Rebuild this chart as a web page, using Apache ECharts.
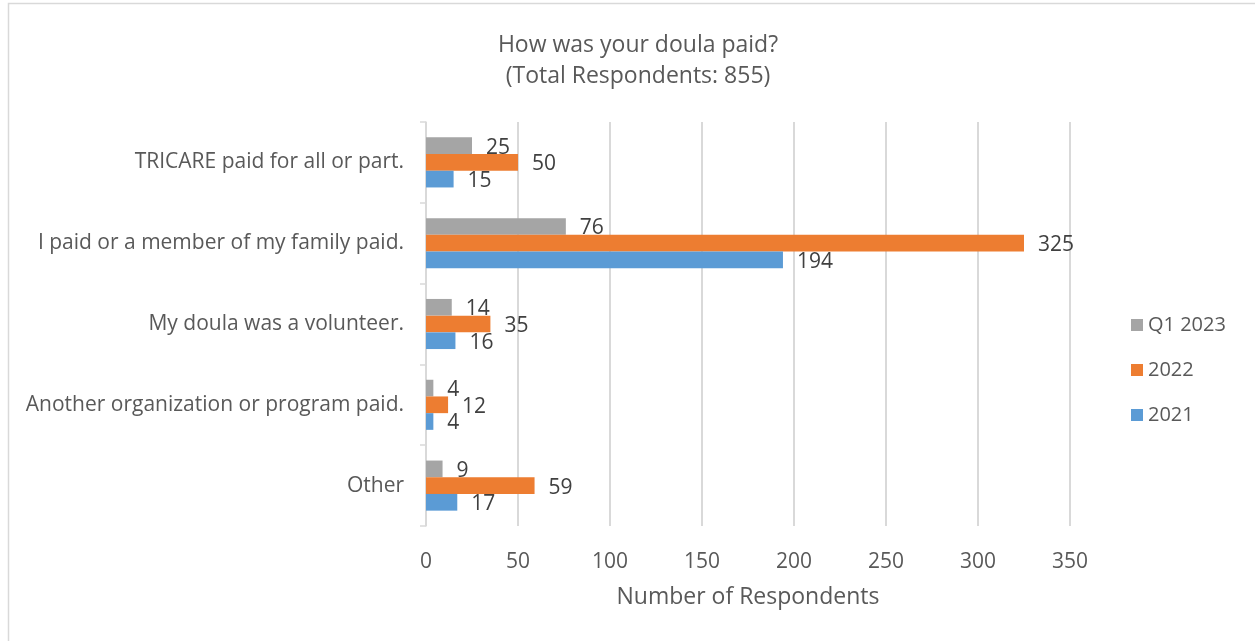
<!DOCTYPE html>
<html>
<head>
<meta charset="utf-8">
<script src="https://cdn.jsdelivr.net/npm/echarts@6/dist/echarts.min.js"></script>
<style>
  html, body { margin: 0; padding: 0; background: #fff; }
  #chart { width: 1255px; height: 641px; }
</style>
</head>
<body>
<div id="chart"></div>
<script>
// Survey answers, listed top to bottom
const categories = [
  'TRICARE paid for all or part.',
  'I paid or a member of my family paid.',
  'My doula was a volunteer.',
  'Another organization or program paid.',
  'Other'
];
const seriesNames = ['Q1 2023', '2022', '2021'];
const q1_2023 = [25, 76, 14, 4, 9];
const y2022 = [50, 325, 35, 12, 59];
const y2021 = [15, 194, 16, 4, 17];
const xTicks = [0, 50, 100, 150, 200, 250, 300, 350];

const colors = ['#a5a5a5', '#ed7d31', '#5b9bd5'];
const FONT = '"Open Sans", sans-serif';
const TEXT = '#595959';

function barSeries(name, data, color) {
  return {
    name: name,
    type: 'bar',
    data: data,
    barGap: '0%',
    barCategoryGap: '38%',
    itemStyle: { color: color },
    label: {
      show: true,
      position: 'right',
      distance: 14,
      offset: [0, 2],
      color: '#404040',
      fontSize: 21,
      fontFamily: FONT
    }
  };
}

const chart = echarts.init(document.getElementById('chart'), null, { renderer: 'canvas' });
chart.setOption({
  animation: false,
  backgroundColor: '#fff',
  color: colors,
  title: {
    text: 'How was your doula paid?\n(Total Respondents: 855)',
    left: 633,
    top: 25,
    textAlign: 'center',
    textStyle: {
      color: TEXT,
      fontSize: 23,
      fontWeight: 'normal',
      fontFamily: FONT,
      lineHeight: 31
    }
  },
  legend: {
    orient: 'vertical',
    left: 1126,
    top: 310,
    itemWidth: 12,
    itemHeight: 12,
    itemGap: 25,
    icon: 'rect',
    textStyle: { color: TEXT, fontSize: 20, fontFamily: FONT },
    data: seriesNames
  },
  grid: {
    left: 426,
    top: 122,
    width: 644,
    height: 404,
    containLabel: false
  },
  xAxis: {
    type: 'value',
    min: xTicks[0],
    max: xTicks[xTicks.length - 1],
    interval: 50,
    name: 'Number of Respondents',
    nameLocation: 'middle',
    nameGap: 60,
    nameTextStyle: { color: TEXT, fontSize: 23, fontFamily: FONT },
    axisLine: { show: false },
    axisTick: { show: false },
    axisLabel: { color: TEXT, fontSize: 21, fontFamily: FONT, margin: 26 },
    splitLine: { show: true, lineStyle: { color: '#d9d9d9', width: 2 } }
  },
  yAxis: {
    type: 'category',
    data: categories,
    inverse: true,
    axisLine: { show: true, lineStyle: { color: '#d9d9d9', width: 1.5 } },
    axisTick: { show: true, length: 6, lineStyle: { color: '#d9d9d9', width: 1.5 } },
    axisLabel: { color: TEXT, fontSize: 21, fontFamily: FONT, margin: 22 },
    splitLine: { show: false }
  },
  graphic: [{
    type: 'polyline',
    shape: { points: [[8.5, 641], [8.5, 3.5], [1255, 3.5]] },
    style: { stroke: '#d9d9d9', lineWidth: 1.5, fill: null },
    silent: true
  }],
  series: [
    barSeries(seriesNames[0], q1_2023, colors[0]),
    barSeries(seriesNames[1], y2022, colors[1]),
    barSeries(seriesNames[2], y2021, colors[2])
  ]
});
</script>
</body>
</html>
